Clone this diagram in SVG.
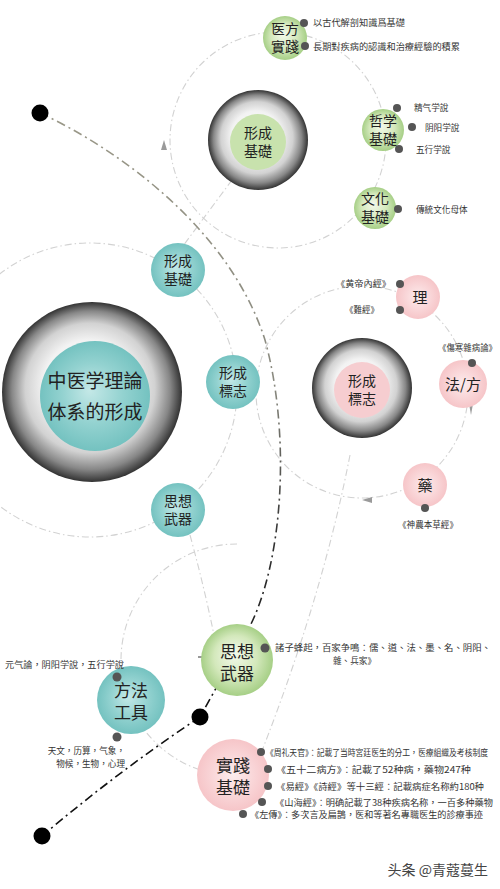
<svg xmlns="http://www.w3.org/2000/svg" width="500" height="889" viewBox="0 0 500 889">
<defs>
<radialGradient id="sph" cx="50%" cy="50%" r="50%" fx="46%" fy="42%">
<stop offset="0" stop-color="#ffffff"/>
<stop offset="0.5" stop-color="#f2f2f2"/>
<stop offset="0.72" stop-color="#d2d2d2"/>
<stop offset="0.88" stop-color="#878787"/>
<stop offset="1" stop-color="#333333"/>
</radialGradient>
<radialGradient id="grn" cx="50%" cy="50%" r="50%" fx="45%" fy="40%">
<stop offset="0" stop-color="#f4f9ec"/>
<stop offset="0.6" stop-color="#d3e8bb"/>
<stop offset="1" stop-color="#a6cf86"/>
</radialGradient>
<radialGradient id="tea" cx="50%" cy="50%" r="50%" fx="45%" fy="45%">
<stop offset="0" stop-color="#c4e8e7"/>
<stop offset="0.55" stop-color="#93d2d0"/>
<stop offset="1" stop-color="#74c2c0"/>
</radialGradient>
<radialGradient id="pnk" cx="50%" cy="50%" r="50%">
<stop offset="0" stop-color="#fdeced"/>
<stop offset="1" stop-color="#f6c5c8"/>
</radialGradient>
<linearGradient id="mainline" gradientUnits="userSpaceOnUse" x1="0" y1="113" x2="0" y2="717">
<stop offset="0" stop-color="#9a9888"/>
<stop offset="0.45" stop-color="#8a8a80"/>
<stop offset="0.7" stop-color="#333"/>
<stop offset="1" stop-color="#111"/>
</linearGradient>
</defs>
<style>
.arc{fill:none;stroke:#d2d2d2;stroke-width:1.1;stroke-dasharray:7 3 1.5 3}
.main{fill:none;stroke-width:1.6;stroke-dasharray:9 4 2 4}
.ah{fill:#9a9a9a}
.tk{stroke:#555;stroke-width:1.2}
.t{font-family:"Noto Sans CJK TC","Noto Sans CJK SC",sans-serif;fill:#222}
.n{font-size:14px;text-anchor:middle}
.nb{font-size:17px;text-anchor:middle}
.s{font-size:8.6px;fill:#333}
.dot{fill:#555}
.bd{fill:#000}
</style>
<rect width="500" height="889" fill="#fff"/>
<g id="connectors">
<circle class="arc" cx="278" cy="140" r="108"/>
<circle class="arc" cx="90" cy="390" r="147"/>
<circle class="arc" cx="362" cy="392" r="106"/>
<path class="arc" d="M237,544 A116,116 0 0 0 237,776"/>
<path class="arc" d="M232,180 L180,250"/>
<path class="arc" d="M350,455 Q318,620 238,810"/>
<path class="arc" d="M190,535 Q205,590 215,640"/>
<polygon class="ah" points="164,140 161,150 167,150"/>
<polygon class="ah" points="362,500 372,497 372,503"/>
<polygon class="ah" points="471,415 468,398 474,398"/>
<line class="tk" x1="198" y1="657" x2="207" y2="657"/>
<line class="tk" x1="198" y1="773" x2="207" y2="773"/>
<path class="main" stroke="url(#mainline)" d="M40,113 C120,150 230,230 265,340 C290,430 285,560 248,630 C232,660 215,690 200,717"/>
<path class="main" stroke="#111" d="M200,717 Q120,770 42,836"/>
</g>
<g id="black-dots">
<circle class="bd" cx="40" cy="113" r="8.5"/>
<circle class="bd" cx="200" cy="717" r="8.5"/>
<circle class="bd" cx="42" cy="836" r="8.5"/>
</g>
<g id="core">
<circle cx="92" cy="392" r="90" fill="url(#sph)"/>
<circle cx="95" cy="396" r="55" fill="url(#tea)"/>
<text class="t" font-size="19" text-anchor="middle"><tspan x="95" y="388">中医学理論</tspan><tspan x="95" y="419">体系的形成</tspan></text>
</g>
<g id="teal-jichu">
<circle cx="178" cy="270" r="27" fill="url(#tea)"/>
<text class="t n"><tspan x="178" y="266">形成</tspan><tspan x="178" y="284">基礎</tspan></text>
</g>
<g id="teal-biaozhi">
<circle cx="233" cy="382" r="27" fill="url(#tea)"/>
<text class="t n"><tspan x="233" y="378">形成</tspan><tspan x="233" y="396">標志</tspan></text>
</g>
<g id="teal-sixiang">
<circle cx="178" cy="510" r="27" fill="url(#tea)"/>
<text class="t n"><tspan x="178" y="506">思想</tspan><tspan x="178" y="524">武器</tspan></text>
</g>
<g id="sphere-jichu">
<circle cx="258" cy="140" r="50" fill="url(#sph)"/>
<circle cx="258" cy="142" r="28" fill="#c8e2ad"/>
<text class="t n"><tspan x="258" y="138">形成</tspan><tspan x="258" y="156">基礎</tspan></text>
</g>
<g id="yifang">
<circle cx="285" cy="38" r="22" fill="url(#grn)"/>
<text class="t n"><tspan x="285" y="34">医方</tspan><tspan x="285" y="52">實踐</tspan></text>
<circle class="dot" cx="304" cy="23" r="4"/>
<circle class="dot" cx="305" cy="46" r="4"/>
<text class="t s" x="313" y="26" textLength="92" lengthAdjust="spacingAndGlyphs">以古代解剖知識爲基礎</text>
<text class="t s" x="313" y="50" textLength="147" lengthAdjust="spacingAndGlyphs">長期對疾病的認識和治療經驗的積累</text>
</g>
<g id="zhexue">
<circle cx="383" cy="130" r="21" fill="url(#grn)"/>
<text class="t n"><tspan x="383" y="126">哲学</tspan><tspan x="383" y="144">基礎</tspan></text>
<circle class="dot" cx="397" cy="108" r="4"/>
<circle class="dot" cx="412" cy="127" r="4"/>
<circle class="dot" cx="399" cy="149" r="4"/>
<text class="t s" x="414" y="111">精气学說</text>
<text class="t s" x="425" y="131">阴阳学說</text>
<text class="t s" x="416" y="153">五行学說</text>
</g>
<g id="wenhua">
<circle cx="375" cy="208" r="21" fill="url(#grn)"/>
<text class="t n"><tspan x="375" y="204">文化</tspan><tspan x="375" y="222">基礎</tspan></text>
<circle class="dot" cx="398" cy="209" r="4"/>
<text class="t s" x="416" y="213">傳統文化母体</text>
</g>
<g id="sphere-biaozhi">
<circle cx="362" cy="388" r="50" fill="url(#sph)"/>
<circle cx="362" cy="390" r="28" fill="#f6cdd0"/>
<text class="t n"><tspan x="362" y="386">形成</tspan><tspan x="362" y="404">標志</tspan></text>
</g>
<g id="li">
<circle cx="418" cy="297" r="22" fill="url(#pnk)"/>
<text class="t" x="420" y="303" font-size="15" text-anchor="middle">理</text>
<circle class="dot" cx="400" cy="284" r="4"/>
<circle class="dot" cx="400" cy="310" r="4"/>
<text class="t s" x="336" y="287" textLength="55" lengthAdjust="spacingAndGlyphs">《黄帝內經》</text>
<text class="t s" x="345" y="313" textLength="34" lengthAdjust="spacingAndGlyphs">《難經》</text>
</g>
<g id="fafang">
<circle cx="463" cy="384" r="24" fill="url(#pnk)"/>
<text class="t" x="463" y="390" font-size="15" text-anchor="middle">法/方</text>
<circle class="dot" cx="472" cy="363" r="4"/>
<text class="t s" x="438" y="351" textLength="59" lengthAdjust="spacingAndGlyphs">《傷寒雜病論》</text>
</g>
<g id="yao">
<circle cx="425" cy="485" r="22" fill="url(#pnk)"/>
<text class="t" x="425" y="491" font-size="15" text-anchor="middle">藥</text>
<circle class="dot" cx="425" cy="508" r="4"/>
<text class="t s" x="398" y="528" textLength="60" lengthAdjust="spacingAndGlyphs">《神農本草經》</text>
</g>
<g id="sixiang">
<circle cx="237" cy="660" r="36" fill="url(#grn)"/>
<text class="t nb"><tspan x="237" y="658">思想</tspan><tspan x="237" y="680">武器</tspan></text>
<circle class="dot" cx="265" cy="648" r="4.5"/>
<text class="t s"><tspan x="275" y="651" textLength="216" lengthAdjust="spacingAndGlyphs">諸子蜂起，百家争鳴：儒、道、法、墨、名、阴阳、</tspan><tspan x="333" y="664">雜、兵家》</tspan></text>
</g>
<g id="fangfa">
<circle cx="131" cy="700" r="34" fill="url(#tea)"/>
<text class="t nb"><tspan x="131" y="697">方法</tspan><tspan x="131" y="719">工具</tspan></text>
<circle class="dot" cx="117" cy="677" r="4.5"/>
<circle class="dot" cx="117" cy="737" r="4.5"/>
<text class="t s" x="5" y="668" textLength="119" lengthAdjust="spacingAndGlyphs">元气論，阴阳学說，五行学說</text>
<text class="t s" text-anchor="end"><tspan x="125" y="754">天文，历算，气象，</tspan><tspan x="125" y="767">物候，生物，心理</tspan></text>
</g>
<g id="shijian">
<circle cx="233" cy="775" r="36" fill="url(#pnk)"/>
<text class="t nb"><tspan x="233" y="772">實踐</tspan><tspan x="233" y="794">基礎</tspan></text>
<circle class="dot" cx="261" cy="752" r="4"/>
<circle class="dot" cx="268" cy="769" r="4"/>
<circle class="dot" cx="268" cy="786" r="4"/>
<circle class="dot" cx="262" cy="802" r="4"/>
<circle class="dot" cx="243" cy="814" r="4"/>
<text class="t s" x="266" y="756" textLength="222" lengthAdjust="spacingAndGlyphs">《周礼天官》：記載了当時宮廷医生的分工，医療組織及考核制度</text>
<text class="t s" x="276" y="773" textLength="195" lengthAdjust="spacingAndGlyphs">《五十二病方》：記載了52种病，藥物247种</text>
<text class="t s" x="276" y="790" textLength="208" lengthAdjust="spacingAndGlyphs">《易經》《詩經》等十三經：記載病症名称約180种</text>
<text class="t s" x="275" y="806" textLength="218" lengthAdjust="spacingAndGlyphs">《山海經》：明确記載了38种疾病名称，一百多种藥物</text>
<text class="t s" x="250" y="818" textLength="233" lengthAdjust="spacingAndGlyphs">《左傳》：多次言及扁鵲，医和等著名專職医生的診療事迹</text>
</g>
<text class="t" x="488" y="875" font-size="14" text-anchor="end" style="fill:#444">头条 @青蔻蔓生</text>
</svg>
